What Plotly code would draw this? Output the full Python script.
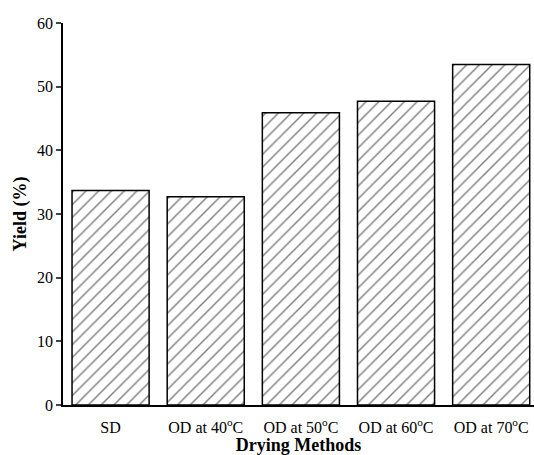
import plotly.graph_objects as go

categories = ["SD", "OD at 40<sup>o</sup>C", "OD at 50<sup>o</sup>C", "OD at 60<sup>o</sup>C", "OD at 70<sup>o</sup>C"]
yield_pct = [33.7, 32.7, 45.9, 47.7, 53.5]
y_ticks = [0, 10, 20, 30, 40, 50, 60]

xpos = list(range(len(categories)))

fig = go.Figure(go.Bar(
    x=xpos, y=yield_pct, width=0.81,
    marker=dict(color="white", line=dict(color="black", width=1.5),
                pattern=dict(shape="/", fgcolor="black", bgcolor="white", size=9, solidity=0.16)),
))

font = "Liberation Serif, Times New Roman, serif"
fig.update_layout(
    width=534, height=455,
    margin=dict(l=63, r=0, t=23, b=50),
    plot_bgcolor="white", paper_bgcolor="white",
    showlegend=False,
    font=dict(family=font, size=16, color="black"),
    xaxis=dict(range=[-0.5, 4.45], tickvals=xpos, ticktext=categories, showline=True,
               linecolor="black", linewidth=1.5, ticks="outside", ticklen=7, tickcolor="white",
               showgrid=False, zeroline=False,
               title=dict(text="<b>Drying Methods</b>", standoff=4, font=dict(size=18))),
    yaxis=dict(range=[0, 60], tickvals=y_ticks, showline=True, linecolor="black", linewidth=1.5,
               ticks="outside", ticklen=5, tickwidth=1.5, showgrid=False, zeroline=False,
               title=dict(text="<b>Yield (%)</b>", standoff=6, font=dict(size=18))),
)
fig.write_html("out.html", config={"displayModeBar": False},
               post_script="document.body.style.margin='0';document.body.style.overflow='hidden';")
